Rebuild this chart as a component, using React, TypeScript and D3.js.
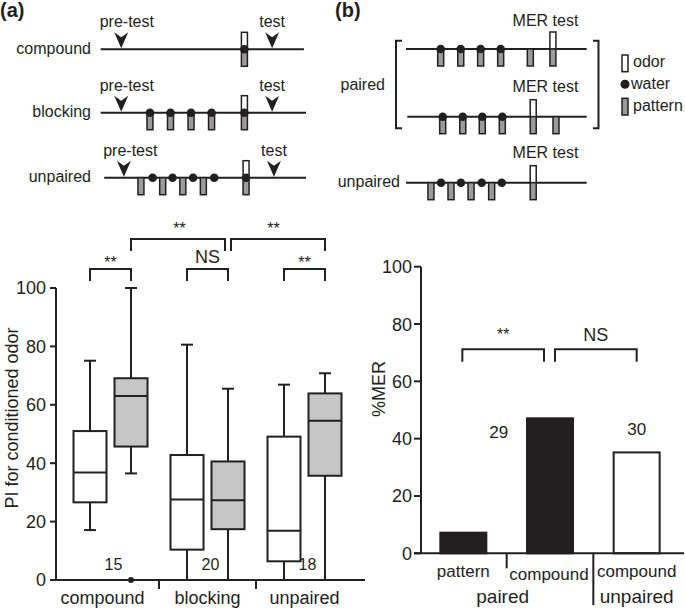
import React from "react";
import * as d3 from "d3";

// ---------- data ----------
const boxGroups = ["compound", "blocking", "unpaired"];
// [min, q1, median, q3, max]
const preTestStats = [
  [17.1, 26.6, 36.8, 51.0, 75.1],
  [0, 10.4, 27.6, 42.8, 80.6],
  [0, 6.4, 16.9, 49.1, 66.9],
];
const testStats = [
  [36.5, 45.7, 63.0, 69.1, 100],
  [0, 17.4, 27.3, 40.6, 65.5],
  [0, 35.7, 54.5, 63.9, 70.8],
];
const testOutliers = [[0], [], []];
const groupN = ["15", "20", "18"];
const piTicks = [0, 20, 40, 60, 80, 100];

const merKeys = ["paired-pattern", "paired-compound", "unpaired-compound"];
const merLabels = ["pattern", "compound", "compound"];
const merValues = [7.2, 47.1, 35.2];
const merN = ["29", "30"];
const merTicks = [0, 20, 40, 60, 80, 100];

// schematic (a): times in arbitrary units 0..100
const aRows = ["compound", "blocking", "unpaired"];
const aLineSpan = [[0, 99], [0, 100], [1.7, 100]];
const aPretest = [10, 10, 11.3];
const aTest = [83.5, 83.5, 84.4];
const aPairings = [[], [24, 34, 44, 54], []];
const aPatternOnly = [[], [], [19.6, 30.2, 40, 50]];
const aWaterOnly = [[], [], [25.3, 35, 45, 55.3]];
const aCompound = [70, 70, 70.8];

// schematic (b)
const bLineSpan = [[0, 100], [0.7, 100], [0, 100]];
const bPairings = [[19.2, 30.3, 41.3, 52.4], [20.3, 31.4, 42.2, 53.3], []];
const bPatternOnly = [[68.8], [83], [13.8, 24.9, 36, 47.4]];
const bWaterOnly = [[], [], [19.4, 30.4, 41.9, 53]];
const bCompound = [81.3, 70.4, 70.4];

// ---------- style ----------
const FONT = "'Liberation Sans', Arial, Helvetica, sans-serif";
const INK = "#231f20";
const BOXGRAY = "#c6c6c6";
const EVGRAY = "#9b9b9b";

const bracket = (x1: number, x2: number, yTop: number, yLeg: number) =>
  `M${x1},${yLeg}V${yTop}H${x2}V${yLeg}`;

function Arrow({ x, y }: { x: number; y: number }) {
  const top = y - 17;
  const d = `M${x - 7},${top}L${x},${top + 5}L${x + 7},${top}L${x},${y - 1}Z`;
  return <path d={d} fill={INK} />;
}

function EventMark({ x, y, odor, pattern, water }: any) {
  const w = 6;
  const h = 17;
  return (
    <g>
      {odor && (
        <rect x={x - w / 2} y={y - h} width={w} height={h} fill="#fff" stroke={INK} strokeWidth={1.5} />
      )}
      {pattern && (
        <rect x={x - w / 2} y={y} width={w} height={h} fill={EVGRAY} stroke={INK} strokeWidth={1.5} />
      )}
      {water && <circle cx={x} cy={y} r={4.3} fill={INK} />}
    </g>
  );
}

function SchematicA() {
  const xs = d3.scaleLinear().domain([0, 100]).range([100.7, 306]);
  const rowY = [49.3, 112.7, 177.7];
  return (
    <g>
      <text x={0} y={17} fontSize={20} fontWeight="bold" fill={INK}>(a)</text>
      {aRows.map((r, i) => {
        const y = rowY[i];
        return (
          <g key={r}>
            <text x={91} y={y + 4.5} fontSize={16} textAnchor="end" fill={INK}>{r}</text>
            <line x1={xs(aLineSpan[i][0])} x2={xs(aLineSpan[i][1])} y1={y} y2={y} stroke={INK} strokeWidth={2} />
            <text x={xs(aLineSpan[i][0]) - 1} y={y - 22} fontSize={16} fill={INK}>pre-test</text>
            <Arrow x={xs(aPretest[i])} y={y} />
            <text x={xs(aTest[i])} y={y - 22} fontSize={16} textAnchor="middle" fill={INK}>test</text>
            <Arrow x={xs(aTest[i])} y={y} />
            {aPairings[i].map((t) => (
              <EventMark key={"p" + t} x={xs(t)} y={y} pattern water />
            ))}
            {aPatternOnly[i].map((t) => (
              <EventMark key={"o" + t} x={xs(t)} y={y} pattern />
            ))}
            {aWaterOnly[i].map((t) => (
              <EventMark key={"w" + t} x={xs(t)} y={y} water />
            ))}
            <EventMark x={xs(aCompound[i])} y={y} odor pattern water />
          </g>
        );
      })}
    </g>
  );
}

function SchematicB() {
  const xs = d3.scaleLinear().domain([0, 100]).range([406, 586.7]);
  const rowY = [49, 116.7, 182.7];
  const merTextY = [26, 92, 158];
  return (
    <g>
      <text x={335} y={17} fontSize={20} fontWeight="bold" fill={INK}>(b)</text>
      {rowY.map((y, i) => (
        <g key={i}>
          <line x1={xs(bLineSpan[i][0])} x2={xs(bLineSpan[i][1])} y1={y} y2={y} stroke={INK} strokeWidth={2} />
          <text x={545.5} y={merTextY[i]} fontSize={16} textAnchor="middle" fill={INK}>MER test</text>
          {bPairings[i].map((t) => (
            <EventMark key={"p" + t} x={xs(t)} y={y} pattern water />
          ))}
          {bPatternOnly[i].map((t) => (
            <EventMark key={"o" + t} x={xs(t)} y={y} pattern />
          ))}
          {bWaterOnly[i].map((t) => (
            <EventMark key={"w" + t} x={xs(t)} y={y} water />
          ))}
          <EventMark x={xs(bCompound[i])} y={y} odor pattern />
        </g>
      ))}
      <text x={385} y={90} fontSize={16} textAnchor="end" fill={INK}>paired</text>
      <text x={400} y={187} fontSize={16} textAnchor="end" fill={INK}>unpaired</text>
      <path d="M402,40.7H396V128.3H402" fill="none" stroke={INK} strokeWidth={2} />
      <path d="M593,40.7H598.5V128.3H593" fill="none" stroke={INK} strokeWidth={2} />
      {/* legend */}
      <rect x={622} y={55} width={6} height={16.7} fill="#fff" stroke={INK} strokeWidth={1.5} />
      <text x={633} y={66.7} fontSize={16} fill={INK}>odor</text>
      <circle cx={625} cy={84.3} r={4.5} fill={INK} />
      <text x={631} y={89} fontSize={16} fill={INK}>water</text>
      <rect x={622} y={98.3} width={6} height={16.7} fill={EVGRAY} stroke={INK} strokeWidth={1.5} />
      <text x={633} y={111} fontSize={16} fill={INK}>pattern</text>
    </g>
  );
}

function BoxPanel() {
  const y = d3.scaleLinear().domain([0, 100]).range([580, 288]);
  const xg = d3.scaleBand().domain(boxGroups).range([62, 353]);
  const center = (g: string) => (xg(g) as number) + xg.bandwidth() / 2;
  const off = 20.5;
  const bw = 33;
  const cap = 12;
  const box = (cx: number, s: number[], fill: string, key: string) => {
    const [mn, q1, md, q3, mx] = s;
    return (
      <g key={key}>
        <line x1={cx} x2={cx} y1={y(mx)} y2={y(q3)} stroke={INK} strokeWidth={2} />
        <line x1={cx} x2={cx} y1={y(q1)} y2={y(mn)} stroke={INK} strokeWidth={2} />
        {mx > 0 && <line x1={cx - cap / 2} x2={cx + cap / 2} y1={y(mx)} y2={y(mx)} stroke={INK} strokeWidth={2} />}
        {mn > 0 && <line x1={cx - cap / 2} x2={cx + cap / 2} y1={y(mn)} y2={y(mn)} stroke={INK} strokeWidth={2} />}
        <rect x={cx - bw / 2} y={y(q3)} width={bw} height={y(q1) - y(q3)} fill={fill} stroke={INK} strokeWidth={2} />
        <line x1={cx - bw / 2} x2={cx + bw / 2} y1={y(md)} y2={y(md)} stroke={INK} strokeWidth={2} />
      </g>
    );
  };
  const cs = boxGroups.map(center);
  return (
    <g>
      {boxGroups.map((g, i) => box(cs[i] - off, preTestStats[i], "#fff", "pre" + g))}
      {boxGroups.map((g, i) => box(cs[i] + off, testStats[i], BOXGRAY, "test" + g))}
      {boxGroups.map((g, i) =>
        testOutliers[i].map((v, j) => <circle key={g + j} cx={cs[i] + off} cy={y(v)} r={3} fill={INK} />)
      )}
      {/* axes */}
      <line x1={56} x2={56} y1={y(100)} y2={y(0)} stroke={INK} strokeWidth={2} />
      <line x1={50} x2={365} y1={y(0)} y2={y(0)} stroke={INK} strokeWidth={2} />
      {piTicks.map((t) => (
        <g key={t}>
          <line x1={50} x2={56} y1={y(t)} y2={y(t)} stroke={INK} strokeWidth={2} />
          <text x={46} y={y(t)} dy="0.36em" fontSize={18} textAnchor="end" fill={INK}>{t}</text>
        </g>
      ))}
      {boxGroups.slice(1).map((g) => (
        <line key={g} x1={xg(g)} x2={xg(g)} y1={y(0)} y2={y(0) + 9} stroke={INK} strokeWidth={2} />
      ))}
      {boxGroups.map((g, i) => (
        <text key={g} x={cs[i] - (i === 0 ? 8 : 0)} y={604} fontSize={18} textAnchor="middle" fill={INK}>{g}</text>
      ))}
      {groupN.map((n, i) => (
        <text key={i} x={cs[i] + 3} y={570} fontSize={16} textAnchor="middle" fill={INK}>{n}</text>
      ))}
      <text transform={`translate(18,418) rotate(-90)`} fontSize={18} textAnchor="middle" fill={INK}>
        PI for conditioned odor
      </text>
      {/* significance */}
      {cs.map((c, i) => (
        <g key={"s" + i}>
          <path d={bracket(c - off, c + off, 269, 281)} fill="none" stroke={INK} strokeWidth={2} />
          <text x={c} y={i === 1 ? 263 : 268} fontSize={i === 1 ? 18 : 16} textAnchor="middle" fill={INK}>
            {i === 1 ? "NS" : "**"}
          </text>
        </g>
      ))}
      <path d={bracket(cs[0] + off, cs[1] + off - 3, 239, 251)} fill="none" stroke={INK} strokeWidth={2} />
      <text x={(cs[0] + cs[1]) / 2 + off} y={234} fontSize={16} textAnchor="middle" fill={INK}>**</text>
      <path d={bracket(cs[1] + off + 3, cs[2] + off, 239, 251)} fill="none" stroke={INK} strokeWidth={2} />
      <text x={(cs[1] + cs[2]) / 2 + off - 3} y={234} fontSize={16} textAnchor="middle" fill={INK}>**</text>
    </g>
  );
}

function MerPanel() {
  const y = d3.scaleLinear().domain([0, 100]).range([553.3, 266.7]);
  const xb = d3.scaleBand().domain(merKeys).range([420, 680]);
  const c = (k: string) => (xb(k) as number) + xb.bandwidth() / 2;
  const bw = 46;
  const fills = [INK, INK, "#fff"];
  const cs = merKeys.map(c);
  return (
    <g>
      {merKeys.map((k, i) => (
        <rect key={k} x={cs[i] - bw / 2} y={y(merValues[i])} width={bw} height={y(0) - y(merValues[i])}
          fill={fills[i]} stroke={INK} strokeWidth={2} />
      ))}
      <line x1={421} x2={421} y1={y(100)} y2={y(0)} stroke={INK} strokeWidth={2} />
      <line x1={414} x2={684} y1={y(0)} y2={y(0)} stroke={INK} strokeWidth={2} />
      {merTicks.map((t) => (
        <g key={t}>
          <line x1={414} x2={421} y1={y(t)} y2={y(t)} stroke={INK} strokeWidth={2} />
          <text x={412} y={y(t)} dy="0.36em" fontSize={18} textAnchor="end" fill={INK}>{t}</text>
        </g>
      ))}
      <line x1={xb(merKeys[1])} x2={xb(merKeys[1])} y1={y(0)} y2={y(0) + 15} stroke={INK} strokeWidth={2} />
      <line x1={xb(merKeys[2])} x2={xb(merKeys[2])} y1={y(0)} y2={605} stroke={INK} strokeWidth={2} />
      {merLabels.map((l, i) => (
        <text key={i} x={cs[i] + (i === 1 ? -1 : 0)} y={i === 1 ? 580 : 577} fontSize={17} textAnchor="middle" fill={INK}>{l}</text>
      ))}
      <text x={(cs[0] + cs[1]) / 2 - 4} y={603} fontSize={19} textAnchor="middle" fill={INK}>paired</text>
      <text x={cs[2]} y={603} fontSize={19} textAnchor="middle" fill={INK}>unpaired</text>
      <text x={xb(merKeys[1]) - 8} y={438} fontSize={17} textAnchor="middle" fill={INK}>{merN[0]}</text>
      <text x={cs[2]} y={435} fontSize={17} textAnchor="middle" fill={INK}>{merN[1]}</text>
      <text transform={`translate(385,389) rotate(-90)`} fontSize={18} textAnchor="middle" fill={INK}>%MER</text>
      <path d={bracket(cs[0] - 1, cs[1] - 6, 349.3, 361.7)} fill="none" stroke={INK} strokeWidth={2} />
      <text x={(cs[0] + cs[1] - 7) / 2} y={340} fontSize={16} textAnchor="middle" fill={INK}>**</text>
      <path d={bracket(cs[1] + 5, cs[2], 349.3, 361.7)} fill="none" stroke={INK} strokeWidth={2} />
      <text x={(cs[1] + cs[2] + 5) / 2} y={341} fontSize={18} textAnchor="middle" fill={INK}>NS</text>
    </g>
  );
}

export default function App() {
  return (
    <svg width={685} height={610} viewBox="0 0 685 610"
      style={{ position: "absolute", left: 0, top: 0, background: "#fff" }}
      fontFamily={FONT}>
      <rect width={685} height={610} fill="#fff" />
      <SchematicA />
      <SchematicB />
      <BoxPanel />
      <MerPanel />
    </svg>
  );
}
